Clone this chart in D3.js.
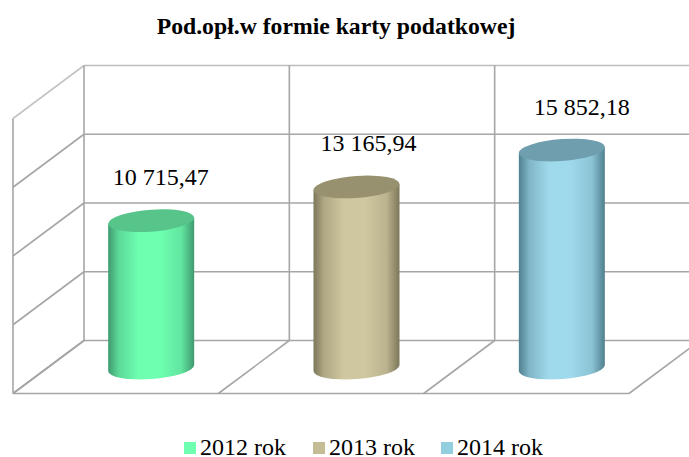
<!DOCTYPE html>
<html><head><meta charset="utf-8">
<script src="https://cdn.jsdelivr.net/npm/d3@7"></script>
<style>html,body{margin:0;padding:0;background:#fff}svg{display:block}text{font-family:"Liberation Serif",serif;fill:#000}</style>
</head><body><div id="c"></div>
<script>
const title = "Pod.opł.w formie karty podatkowej";
const categories = ["2012 rok","2013 rok","2014 rok"];
const values = [10715.47,13165.94,15852.18];
const labels = ["10 715,47","13 165,94","15 852,18"];
const yTicks = [0,5000,10000,15000,20000];
const baseColors = ["#6effb0","#cfc79f","#9fd9ec"];
const topColors = ["#57c48a","#97916f","#6f9fae"];
const edgeColors = ["#3f9a70","#7c7759","#4f808e"];
const swatchColors = ["#6fffb1","#c4bc94","#92cede"];
const labelShift = [9.5,12,20];

const W=689,H=457;
const svg=d3.select("#c").append("svg").attr("width",W).attr("height",H);
const defs=svg.append("defs");
const dx=-71,dy=53;
const x=d3.scaleBand().domain(categories).range([84,700]);
const y=d3.scaleLinear().domain([0,20000]).range([340.5,65.5]);
const grid=svg.append("g").attr("fill","none").attr("stroke","#a6a6a6").attr("stroke-width",1.6);
yTicks.forEach(t=>{
  grid.append("line").attr("x1",x.range()[0]).attr("x2",W).attr("y1",y(t)).attr("y2",y(t))
    .attr("stroke",t===20000?"#bdbdbd":"#a6a6a6");
  grid.append("line").attr("x1",x.range()[0]).attr("x2",x.range()[0]+dx).attr("y1",y(t)).attr("y2",y(t)+dy)
    .attr("stroke",t===20000?"#c4c4c4":"#a6a6a6");
});
const xEdges=[...categories.map(c=>x(c)),x.range()[1]];
xEdges.forEach(e=>{
  if(e<W) grid.append("line").attr("x1",e).attr("x2",e).attr("y1",y(20000)).attr("y2",y(0));
  grid.append("line").attr("x1",e).attr("x2",e+dx).attr("y1",y(0)).attr("y2",y(0)+dy);
});
grid.append("line").attr("x1",84+dx).attr("x2",84+dx).attr("y1",y(20000)+dy).attr("y2",y(0)+dy);
grid.append("line").attr("x1",84+dx).attr("x2",x.range()[1]+dx).attr("y1",y(0)+dy).attr("y2",y(0)+dy);

const rx=43,ry=11,skew=-3/43;
const depthX=-35.5,depthY=27.5;
categories.forEach((c,i)=>{
  const g=defs.append("linearGradient").attr("id","g"+i);
  [[0,edgeColors[i]],[.12,d3.interpolateRgb(edgeColors[i],baseColors[i])(.6)],[.35,baseColors[i]],[.6,baseColors[i]],[.85,d3.interpolateRgb(edgeColors[i],baseColors[i])(.75)],[1,edgeColors[i]]]
   .forEach(s=>g.append("stop").attr("offset",s[0]).attr("stop-color",s[1]));
  const cx=x(c)+x.bandwidth()/2+depthX;
  const yb=y(0)+depthY, yt=y(values[i])+depthY, h=yb-yt;
  const b=svg.append("g").attr("transform",`translate(${cx},${yt}) matrix(1,${skew},0,1,0,0)`);
  b.append("path").attr("d",`M${-rx},0V${h}A${rx},${ry} 0 0 0 ${rx},${h}V0Z`).attr("fill",`url(#g${i})`);
  b.append("ellipse").attr("rx",rx).attr("ry",ry).attr("fill",topColors[i]);
  svg.append("text").attr("x",cx+labelShift[i]).attr("y",yt-35.5).attr("text-anchor","middle").attr("font-size",24).text(labels[i]);
});
svg.append("text").attr("x",336).attr("y",34).attr("text-anchor","middle").attr("font-size",23.7).attr("font-weight","bold").text(title);
const lx=[184,313,441];
categories.forEach((c,i)=>{
  svg.append("rect").attr("x",lx[i]).attr("y",442).attr("width",12).attr("height",12).attr("fill",swatchColors[i]);
  svg.append("text").attr("x",lx[i]+16).attr("y",455).attr("font-size",24).text(c);
});
</script></body></html>
